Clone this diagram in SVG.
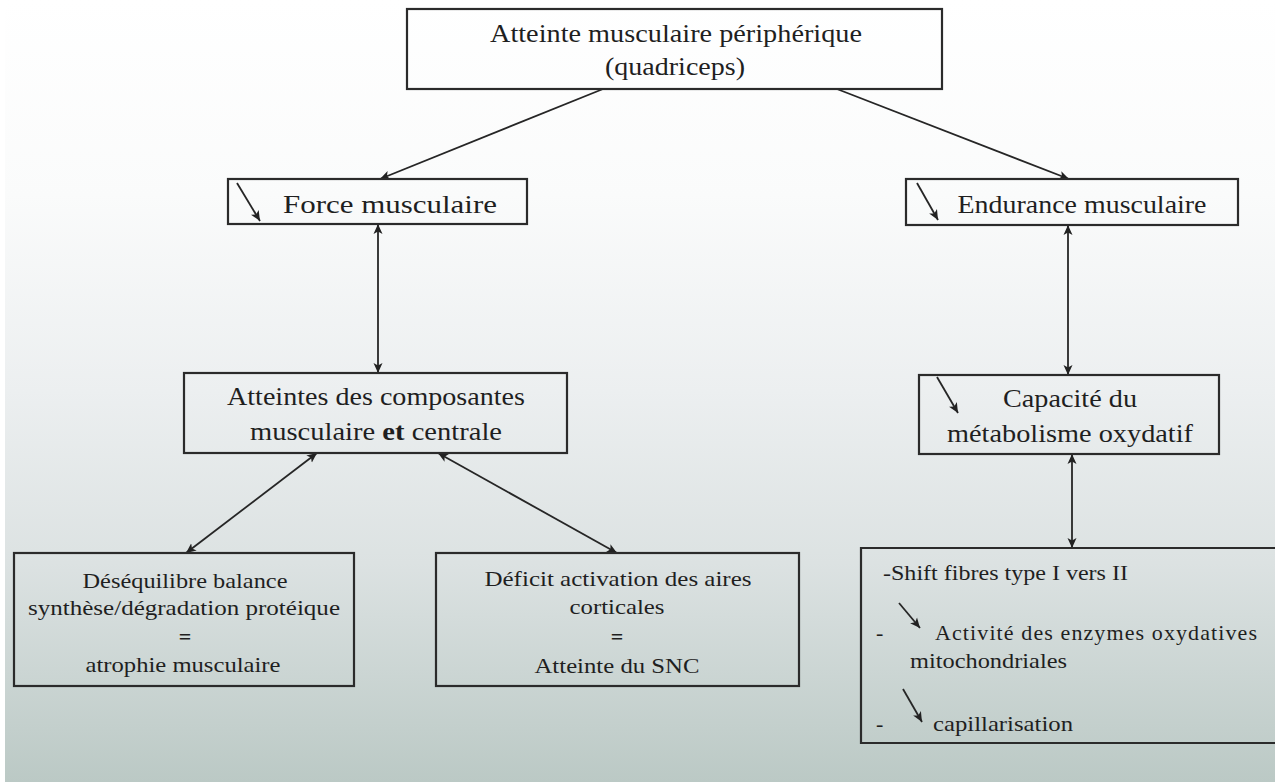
<svg xmlns="http://www.w3.org/2000/svg" width="1275" height="783" viewBox="0 0 1275 783">
  <defs>
    <linearGradient id="bg" x1="0" y1="0" x2="0" y2="1">
      <stop offset="0" stop-color="#ffffff"/>
      <stop offset="0.25" stop-color="#fafbfb"/>
      <stop offset="0.5" stop-color="#eceff0"/>
      <stop offset="0.72" stop-color="#dce2e2"/>
      <stop offset="1" stop-color="#bbc9c5"/>
    </linearGradient>
    <marker id="ah" viewBox="0 0 10 10" refX="10" refY="5" markerWidth="10" markerHeight="10" markerUnits="userSpaceOnUse" orient="auto-start-reverse">
      <path d="M0,0.5 L10,5 L0,9.5 L2.5,5 Z" fill="#222"/>
    </marker>
    <style>
      .box { fill: none; stroke: #2b2b2b; stroke-width: 2.2; }
      .con { fill: none; stroke: #262626; stroke-width: 1.8; }
      .mark { fill: none; stroke: #262626; stroke-width: 1.8; marker-end: url(#ah); }
      text { font-family: 'Liberation Serif', 'DejaVu Serif', serif; fill: #1f1f1f; }
      .t26 { font-size: 26px; text-anchor: middle; }
      .t22 { font-size: 22px; text-anchor: middle; }
      .t22l { font-size: 22px; }
    </style>
  </defs>

  <rect x="0" y="0" width="1275" height="783" fill="#ffffff"/>
  <rect x="5" y="0" width="1270" height="782" fill="url(#bg)"/>

  <g id="connectors">
    <line class="con" x1="603" y1="89" x2="380" y2="179" marker-end="url(#ah)"/>
    <line class="con" x1="837" y1="89" x2="1069" y2="179" marker-end="url(#ah)"/>
    <line class="con" x1="378" y1="224" x2="378" y2="373" marker-start="url(#ah)" marker-end="url(#ah)"/>
    <line class="con" x1="317" y1="453" x2="186" y2="553" marker-start="url(#ah)" marker-end="url(#ah)"/>
    <line class="con" x1="438" y1="453" x2="617" y2="553" marker-start="url(#ah)" marker-end="url(#ah)"/>
    <line class="con" x1="1068" y1="225" x2="1068" y2="375" marker-start="url(#ah)" marker-end="url(#ah)"/>
    <line class="con" x1="1072" y1="454" x2="1072" y2="548" marker-start="url(#ah)" marker-end="url(#ah)"/>
  </g>

  <g id="node-atteinte" font-family="Liberation Serif, serif">
    <rect class="box" x="407" y="9" width="535" height="80"/>
    <text class="t26" x="676" y="42" textLength="372" lengthAdjust="spacingAndGlyphs">Atteinte musculaire périphérique</text>
    <text class="t26" x="675" y="75" textLength="140" lengthAdjust="spacingAndGlyphs">(quadriceps)</text>
  </g>

  <g id="node-force" font-family="Liberation Serif, serif">
    <rect class="box" x="228" y="179" width="299" height="45"/>
    <line class="mark" x1="237" y1="183" x2="260" y2="221"/>
    <text class="t26" x="390" y="213" textLength="214" lengthAdjust="spacingAndGlyphs">Force musculaire</text>
  </g>

  <g id="node-endurance" font-family="Liberation Serif, serif">
    <rect class="box" x="906" y="179" width="332" height="46"/>
    <line class="mark" x1="917" y1="183" x2="938" y2="220"/>
    <text class="t26" x="1082" y="213" textLength="249" lengthAdjust="spacingAndGlyphs">Endurance musculaire</text>
  </g>

  <g id="node-composantes" font-family="Liberation Serif, serif">
    <rect class="box" x="184" y="373" width="383" height="80"/>
    <text class="t26" x="376" y="405" textLength="298" lengthAdjust="spacingAndGlyphs">Atteintes des composantes</text>
    <text class="t26" x="376" y="440" textLength="252" lengthAdjust="spacingAndGlyphs">musculaire <tspan font-weight="bold">et</tspan> centrale</text>
  </g>

  <g id="node-capacite" font-family="Liberation Serif, serif">
    <rect class="box" x="919" y="375" width="300" height="79"/>
    <line class="mark" x1="937" y1="377" x2="958" y2="413"/>
    <text class="t26" x="1070" y="407" textLength="134" lengthAdjust="spacingAndGlyphs">Capacité du</text>
    <text class="t26" x="1070" y="442" textLength="246" lengthAdjust="spacingAndGlyphs">métabolisme oxydatif</text>
  </g>

  <g id="node-desequilibre" font-family="Liberation Serif, serif">
    <rect class="box" x="14" y="553" width="340" height="133"/>
    <text class="t22" x="185" y="588" textLength="205" lengthAdjust="spacingAndGlyphs">Déséquilibre balance</text>
    <text class="t22" x="184" y="615" textLength="312" lengthAdjust="spacingAndGlyphs">synthèse/dégradation protéique</text>
    <text class="t22" x="185" y="644" font-weight="bold">=</text>
    <text class="t22" x="183" y="672" textLength="195" lengthAdjust="spacingAndGlyphs">atrophie musculaire</text>
  </g>

  <g id="node-deficit" font-family="Liberation Serif, serif">
    <rect class="box" x="436" y="553" width="363" height="133"/>
    <text class="t22" x="618" y="586" textLength="267" lengthAdjust="spacingAndGlyphs">Déficit activation des aires</text>
    <text class="t22" x="617" y="614" textLength="95" lengthAdjust="spacingAndGlyphs">corticales</text>
    <text class="t22" x="617" y="644" font-weight="bold">=</text>
    <text class="t22" x="617" y="673" textLength="165" lengthAdjust="spacingAndGlyphs">Atteinte du SNC</text>
  </g>

  <g id="node-shift" font-family="Liberation Serif, serif">
    <path class="box" d="M1275,548 H861 V743 H1275"/>
    <text class="t22l" x="883" y="580" textLength="245" lengthAdjust="spacingAndGlyphs">-Shift fibres type I vers II</text>
    <text class="t22l" x="876" y="640">-</text>
    <line class="mark" x1="899" y1="603" x2="920" y2="628"/>
    <text class="t22l" x="935" y="640" textLength="322" lengthAdjust="spacing">Activité des enzymes oxydatives</text>
    <text class="t22l" x="910" y="668" textLength="157" lengthAdjust="spacingAndGlyphs">mitochondriales</text>
    <text class="t22l" x="876" y="731">-</text>
    <line class="mark" x1="903" y1="689" x2="922" y2="722"/>
    <text class="t22l" x="933" y="731" textLength="140" lengthAdjust="spacingAndGlyphs">capillarisation</text>
  </g>
</svg>
